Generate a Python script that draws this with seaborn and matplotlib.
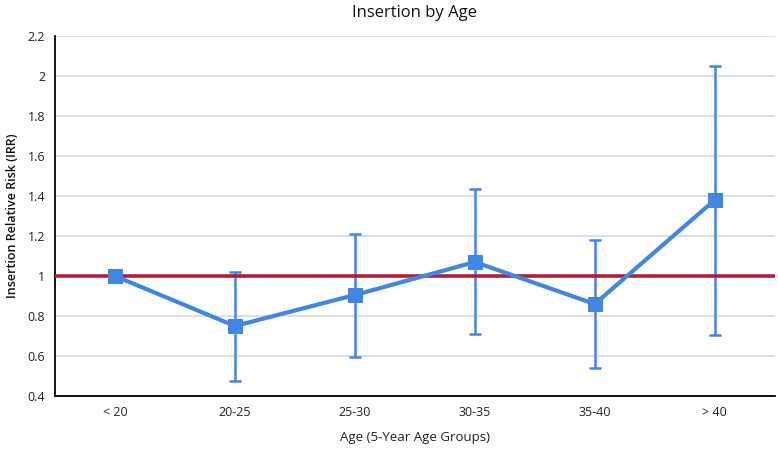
import matplotlib
matplotlib.use("Agg")
import matplotlib.pyplot as plt
import seaborn as sns
import pandas as pd
import numpy as np

categories = ["< 20", "20-25", "25-30", "30-35", "35-40", "> 40"]
irr = [1.0, 0.75, 0.905, 1.07, 0.86, 1.38]
ci_low = [1.0, 0.475, 0.595, 0.71, 0.54, 0.705]
ci_high = [1.0, 1.02, 1.21, 1.435, 1.18, 2.05]
yticks = [0.4, 0.6, 0.8, 1.0, 1.2, 1.4, 1.6, 1.8, 2.0, 2.2]
ytick_labels = ["0.4", "0.6", "0.8", "1", "1.2", "1.4", "1.6", "1.8", "2", "2.2"]

sns.set_style("white")
plt.rcParams['font.family'] = ['Open Sans', 'DejaVu Sans']

blue = "#3f87e3"
red = "#b01f3a"

df = pd.DataFrame({"Age": categories, "IRR": irr, "low": ci_low, "high": ci_high})

fig = plt.figure(figsize=(7.78, 4.51), dpi=100)
ax = fig.add_axes([0.0707, 0.122, 0.925, 0.798])

ax.set_ylim(0.4, 2.2)
ax.set_yticks(yticks)
ax.set_yticklabels(ytick_labels)
ax.yaxis.grid(True, color="#d5dde8", linewidth=1.2)
ax.set_axisbelow(True)

x = np.arange(len(categories))
yerr = np.array([df["IRR"] - df["low"], df["high"] - df["IRR"]])
ax.errorbar(x, df["IRR"], yerr=yerr, fmt="none", ecolor=blue, elinewidth=1.8,
            capsize=4, capthick=1.8, zorder=3)
ax.axhline(1.0, color=red, linewidth=2.6, zorder=4)
sns.lineplot(data=df, x="Age", y="IRR", ax=ax, color=blue, marker="s",
             markersize=10, markeredgecolor=blue, linewidth=3, zorder=5, sort=False)

ax.set_xlim(-0.5, len(categories) - 0.5)
ax.set_xticks(x)
ax.set_xticklabels(categories)

for s in ["top", "right"]:
    ax.spines[s].set_visible(False)
for s in ["left", "bottom"]:
    ax.spines[s].set_color("black")
    ax.spines[s].set_linewidth(1.3)
ax.tick_params(axis="both", length=0, labelsize=9, pad=7, colors="#222222")

ax.set_xlabel("Age (5-Year Age Groups)", fontsize=9.5, labelpad=9, color="#222222")
ax.set_ylabel("Insertion Relative Risk (IRR)", fontsize=9, labelpad=6,
              color="#111111", fontweight="semibold")
ax.set_title("Insertion by Age", fontsize=12, pad=14, color="#111111")

fig.savefig("out.png", dpi=100)
